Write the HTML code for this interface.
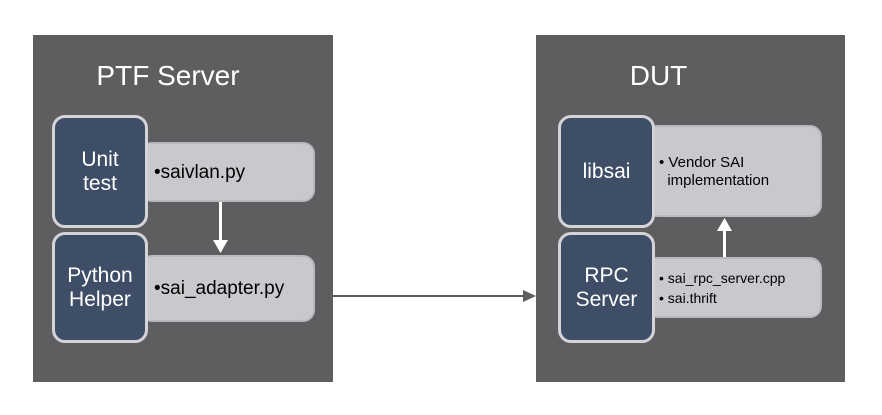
<!DOCTYPE html><html><head><style>
body{margin:0;width:882px;height:415px;background:#fff;position:relative;font-family:"Liberation Sans",sans-serif;overflow:hidden}
.p{position:absolute;background:#5e5e60}
.t{position:absolute;color:#fff;font-size:28px;text-align:center}
.l{position:absolute;background:#c9c9cd;border:2px solid #b9b9bd;border-radius:12px;box-sizing:border-box;color:#000}
.d{position:absolute;background:#3f4e67;border:3px solid #d4d4d8;border-radius:13px;box-sizing:border-box;color:#fff;font-size:21px;display:flex;align-items:center;justify-content:center;text-align:center;line-height:24px}
.a{position:absolute;background:#fff;width:3px}
</style></head><body>
<div class="p" style="left:33px;top:35px;width:300px;height:347px"></div>
<div class="p" style="left:536px;top:35px;width:309px;height:347px"></div>
<div class="t" style="left:33px;top:60px;width:270px">PTF Server</div>
<div class="t" style="left:536px;top:60px;width:245px">DUT</div>

<div class="l" style="left:140px;top:142px;width:175px;height:60px;font-size:19px;padding:18px 0 0 12px">•saivlan.py</div>
<div class="d" style="left:52px;top:115px;width:96px;height:113px">Unit<br>test</div>
<div class="l" style="left:140px;top:255px;width:175px;height:67px;font-size:19px;padding:21px 0 0 12px">•sai_adapter.py</div>
<div class="d" style="left:52px;top:232px;width:96px;height:111px">Python<br>Helper</div>
<div class="a" style="left:219px;top:202px;height:40px"></div>
<svg style="position:absolute;left:213px;top:240px" width="15" height="14"><polygon points="0,0 15,0 7.5,13" fill="#fff"/></svg>

<div class="l" style="left:645px;top:125px;width:177px;height:92px;font-size:15px;line-height:18px;padding:27px 0 0 12px">•&nbsp;Vendor SAI<br>&nbsp;&nbsp;implementation</div>
<div class="d" style="left:558px;top:115px;width:97px;height:113px">libsai</div>
<div class="l" style="left:645px;top:257px;width:177px;height:61px;font-size:14px;line-height:20px;padding:9px 0 0 12px">•&nbsp;sai_rpc_server.cpp<br>•&nbsp;sai.thrift</div>
<div class="d" style="left:558px;top:232px;width:97px;height:111px">RPC<br>Server</div>
<div class="a" style="left:723px;top:230px;height:27px"></div>
<svg style="position:absolute;left:717px;top:217px" width="15" height="14"><polygon points="0,14 15,14 7.5,1" fill="#fff"/></svg>

<div style="position:absolute;left:333px;top:295px;width:193px;height:2px;background:#5e5e60"></div>
<svg style="position:absolute;left:523px;top:289px" width="14" height="14"><polygon points="0,1 13,7 0,13" fill="#5e5e60"/></svg>
</body></html>
